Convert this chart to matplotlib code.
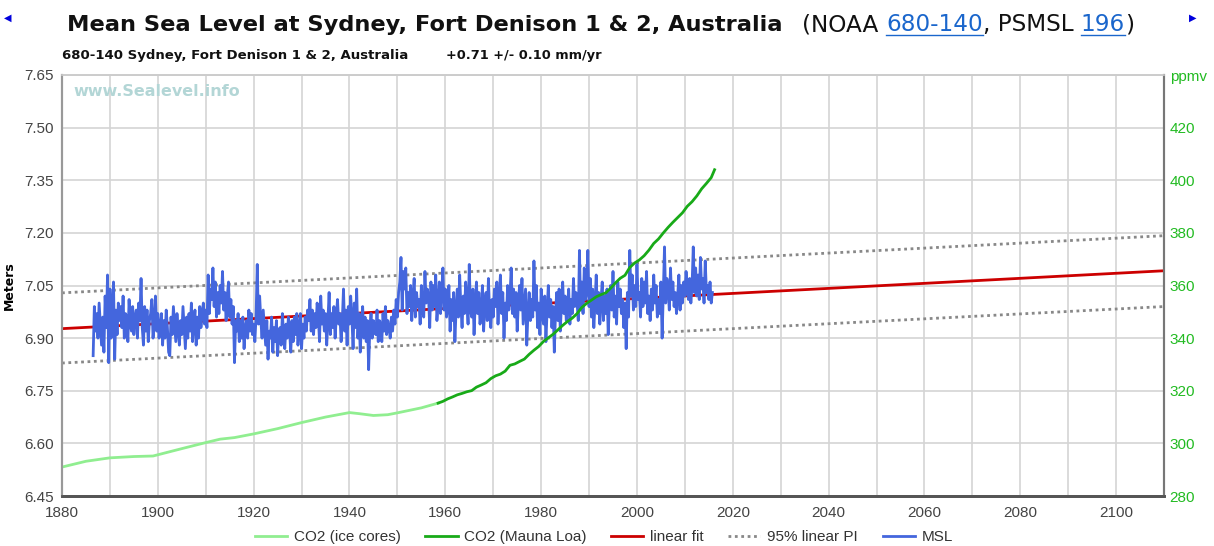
import numpy as np
import matplotlib
matplotlib.use("Agg")
import matplotlib.pyplot as plt
from matplotlib.lines import Line2D

# ---------------- data ----------------
msl_start = 1886.5
msl_step = 0.25
msl_values = [
    6.85, 6.99, 6.92, 6.97,  6.90, 7.00, 6.94, 6.88,  6.96, 6.86, 7.02, 6.93,
    7.08, 6.83, 7.04, 6.90,  6.97, 7.06, 6.84, 6.98,  6.91, 7.00, 6.95, 6.99,
    6.93, 7.02, 6.90, 6.97,  6.96, 6.89, 7.01, 6.94,  6.92, 6.99, 6.91, 6.96,
    6.98, 6.90, 7.00, 6.95,  7.07, 6.93, 6.88, 6.99,  6.92, 6.98, 6.89, 6.95,
    6.97, 7.01, 6.90, 6.94,  7.02, 6.92, 6.97, 6.90,  6.93, 6.97, 6.88, 6.95,
    6.90, 6.98, 6.93, 6.86,  6.85, 6.96, 6.91, 6.99,  6.94, 6.89, 6.97, 6.92,
    6.88, 6.95, 6.91, 6.99,  6.93, 6.87, 6.96, 6.90,  6.97, 6.92, 7.00, 6.89,
    6.94, 6.98, 6.88, 6.96,  6.90, 6.99, 6.93, 6.97,  7.00, 6.94, 6.98, 6.93,
    7.08, 6.97, 7.04, 7.01,  7.10, 6.99, 7.06, 6.96,  7.03, 6.97, 7.05, 7.00,
    7.09, 6.98, 7.03, 6.95,  7.02, 7.06, 6.96, 7.01,  6.94, 6.99, 6.83, 6.95,
    6.92, 6.97, 6.89, 6.95,  6.90, 6.96, 6.87, 6.93,  6.95, 6.90, 6.98, 6.92,
    6.97, 6.91, 6.94, 6.89,  6.96, 7.11, 6.94, 7.02,  6.95, 6.90, 6.98, 6.93,
    6.88, 6.95, 6.84, 6.92,  6.90, 6.96, 6.86, 6.93,  6.89, 6.95, 6.85, 6.92,
    6.93, 6.88, 6.97, 6.91,  6.87, 6.94, 6.90, 6.96,  6.92, 6.86, 6.95, 6.89,
    6.96, 6.91, 6.97, 6.88,  6.93, 6.97, 6.87, 6.94,  6.90, 6.96, 6.92, 6.98,
    6.95, 7.01, 6.92, 6.98,  6.91, 6.97, 6.93, 7.00,  6.96, 6.89, 7.02, 6.94,
    6.98, 6.92, 6.97, 6.88,  6.95, 7.03, 6.91, 6.97,  6.93, 6.99, 6.90, 6.96,
    7.01, 6.94, 6.97, 6.89,  6.95, 7.04, 6.92, 6.98,  6.88, 6.99, 6.94, 7.02,
    6.96, 6.87, 7.00, 6.93,  7.04, 6.90, 6.97, 6.86,  6.94, 6.99, 6.90, 6.96,
    6.89, 6.95, 6.81, 6.93,  6.97, 6.90, 6.95, 6.92,  6.91, 6.98, 6.89, 6.95,
    6.94, 6.89, 6.97, 6.92,  6.99, 6.91, 6.95, 6.93,  6.90, 6.96, 6.92, 6.98,
    6.94, 7.01, 6.96, 7.03,  7.06, 7.13, 6.98, 7.09,  7.04, 7.10, 6.97, 7.03,
    6.99, 7.05, 6.95, 7.02,  7.07, 6.96, 7.03, 6.99,  7.01, 6.94, 7.05, 6.98,
    6.96, 7.09, 7.00, 7.04,  7.02, 6.93, 7.06, 6.98,  7.05, 6.99, 7.08, 6.95,
    7.00, 7.06, 6.97, 7.03,  7.10, 6.98, 7.04, 6.96,  6.99, 7.05, 6.92, 7.01,
    6.95, 7.03, 6.89, 6.98,  7.04, 6.96, 7.08, 6.99,  6.93, 7.02, 6.97, 7.06,
    7.01, 6.94, 7.11, 6.98,  6.96, 7.04, 6.91, 7.00,  7.06, 6.97, 7.03, 6.94,
    6.98, 7.05, 6.92, 7.00,  7.03, 6.95, 7.07, 6.97,  6.93, 7.01, 6.96, 7.04,
    6.99, 7.06, 6.94, 7.02,  7.08, 6.97, 7.03, 6.90,  7.00, 6.95, 7.05, 6.98,
    7.02, 7.10, 6.97, 7.04,  6.96, 7.03, 6.92, 7.00,  7.05, 6.98, 7.07, 6.94,
    6.99, 7.04, 6.88, 6.97,  7.03, 6.95, 7.01, 6.96,  7.12, 6.98, 7.05, 6.93,
    7.00, 6.91, 7.04, 6.97,  6.94, 7.02, 6.89, 6.98,  7.05, 6.96, 7.01, 6.93,
    6.99, 6.86, 6.97, 7.03,  6.95, 7.04, 6.92, 7.00,  7.06, 6.97, 7.02, 6.95,
    6.99, 7.04, 6.94, 7.01,  6.97, 7.07, 6.99, 7.03,  7.00, 6.95, 7.15, 6.98,
    7.06, 6.97, 7.10, 7.01,  7.03, 7.15, 6.99, 7.07,  6.96, 7.04, 6.93, 7.00,
    7.08, 6.97, 7.03, 6.94,  7.01, 7.06, 6.95, 7.02,  6.97, 7.04, 6.91, 7.00,
    7.05, 6.98, 7.09, 6.96,  7.02, 6.94, 7.06, 6.99,  7.04, 6.97, 7.01, 6.93,
    7.00, 6.87, 7.03, 6.96,  7.15, 7.02, 7.08, 6.98,  7.05, 6.99, 7.11, 7.01,
    7.03, 6.96, 7.07, 6.99,  7.06, 7.00, 7.09, 6.97,  7.02, 6.95, 7.04, 6.98,
    7.08, 7.00, 7.05, 6.96,  7.01, 6.97, 7.06, 6.90,  7.03, 7.16, 7.00, 7.07,
    7.04, 6.98, 7.10, 7.01,  7.06, 6.99, 7.03, 6.97,  7.02, 7.08, 6.98, 7.05,
    7.00, 7.06, 7.02, 7.09,  7.04, 7.01, 7.07, 7.00,  7.05, 7.16, 7.03, 7.10,
    7.02, 7.08, 7.01, 7.13,  7.04, 7.07, 7.00, 7.12,  7.03, 7.05, 7.01, 7.06,
    7.00, 7.03,
]

fit_years = [1880, 2110]
fit_values = [6.927, 7.092]
pi_upper = [7.029, 7.192]
pi_lower = [6.829, 6.990]

ice_years = [1880, 1885, 1890, 1895, 1899, 1905, 1910, 1913, 1916, 1920, 1925,
             1930, 1935, 1940, 1942, 1945, 1948, 1950, 1955, 1958.5]
ice_ppmv = [291.0, 293.2, 294.5, 295.0, 295.2, 298.0, 300.3, 301.6, 302.2, 303.6,
            305.6, 307.9, 310.0, 311.7, 311.3, 310.6, 310.9, 311.6, 313.5, 315.3]

ml_years = [1958.5, 1959.5, 1960.5, 1961.5, 1962.5, 1963.5, 1964.5, 1965.5, 1966.5,
            1967.5, 1968.5, 1969.5, 1970.5, 1971.5, 1972.5, 1973.5, 1974.5, 1975.5,
            1976.5, 1977.5, 1978.5, 1979.5, 1980.5, 1981.5, 1982.5, 1983.5, 1984.5,
            1985.5, 1986.5, 1987.5, 1988.5, 1989.5, 1990.5, 1991.5, 1992.5, 1993.5,
            1994.5, 1995.5, 1996.5, 1997.5, 1998.5, 1999.5, 2000.5, 2001.5, 2002.5,
            2003.5, 2004.5, 2005.5, 2006.5, 2007.5, 2008.5, 2009.5, 2010.5, 2011.5,
            2012.5, 2013.5, 2014.5, 2015.5, 2016.2]
ml_ppmv = [315.3, 315.97, 316.91, 317.64, 318.45, 318.99, 319.62, 320.04, 321.37,
           322.18, 323.05, 324.62, 325.68, 326.32, 327.46, 329.68, 330.19, 331.13,
           332.03, 333.84, 335.41, 336.84, 338.76, 340.12, 341.48, 343.15, 344.85,
           346.35, 347.61, 349.31, 351.69, 353.20, 354.45, 355.70, 356.54, 357.21,
           358.96, 360.97, 362.74, 363.88, 366.84, 368.54, 369.71, 371.32, 373.45,
           375.98, 377.70, 379.98, 382.09, 384.02, 385.83, 387.64, 390.10, 391.85,
           394.06, 396.74, 398.81, 401.01, 404.0]

left_ticks = [6.45, 6.60, 6.75, 6.90, 7.05, 7.20, 7.35, 7.50, 7.65]
right_ticks = [280, 300, 320, 340, 360, 380, 400, 420, 440]
right_labels = ["280", "300", "320", "340", "360", "380", "400", "420", "ppmv"]
x_major = list(range(1880, 2111, 20))
x_minor = list(range(1890, 2111, 20))

# ---------------- figure ----------------
W, H = 1214, 546
fig = plt.figure(figsize=(W / 100, H / 100), dpi=100)
ax = fig.add_axes([62 / W, 1 - 496 / H, (1164 - 62) / W, (496 - 75) / H])
ax2 = ax.twinx()

sans = ["Liberation Sans", "DejaVu Sans"]
tick_color = "#444444"
green_lab = "#22bb22"

msl_years = msl_start + msl_step * np.arange(len(msl_values))

l_fit, = ax.plot(fit_years, fit_values, color="#cc0000", lw=2.0, zorder=2)
l_pi, = ax.plot(fit_years, pi_upper, color="#888888", lw=2.0,
                linestyle=(0, (1, 1.3)), zorder=2)
ax.plot(fit_years, pi_lower, color="#888888", lw=2.0, linestyle=(0, (1, 1.3)), zorder=2)
l_msl, = ax.plot(msl_years, msl_values, color="#4466dd", lw=2.0, zorder=3)

l_ice, = ax2.plot(ice_years, ice_ppmv, color="#90ee90", lw=2.0)
l_ml, = ax2.plot(ml_years, ml_ppmv, color="#18aa18", lw=2.0)

ax.set_xlim(1880, 2110)
ax.set_ylim(6.45, 7.65)
ax2.set_ylim(280, 440)

ax.set_xticks(x_major)
ax.set_xticks(x_minor, minor=True)
ax.set_yticks(left_ticks)
ax.set_yticklabels([f"{v:.2f}" for v in left_ticks])
ax2.set_yticks(right_ticks)
ax2.set_yticklabels(right_labels)

ax.grid(True, which="both", color="#d4d4d4", lw=1.2, zorder=0)
ax.set_axisbelow(True)

ax.tick_params(axis="both", which="both", length=0, labelsize=11,
               labelcolor=tick_color)
ax.tick_params(axis="x", pad=7)
ax.tick_params(axis="y", pad=6)
ax2.tick_params(axis="y", length=0, labelsize=11, labelcolor=green_lab, pad=4)
for lab in ax.get_xticklabels() + ax.get_yticklabels() + ax2.get_yticklabels():
    lab.set_family(sans)

for a in (ax, ax2):
    a.spines["top"].set_color("#cccccc")
    a.spines["top"].set_linewidth(1.2)
    a.spines["bottom"].set_color("#555555")
    a.spines["bottom"].set_linewidth(2.0)
    a.spines["left"].set_color("#999999")
    a.spines["left"].set_linewidth(1.5)
    a.spines["right"].set_color("#777777")
    a.spines["right"].set_linewidth(1.5)

ax.set_ylabel("Meters", fontsize=9, fontweight="bold", family=["DejaVu Sans"],
              labelpad=6)

ax.text(0.01, 0.96, "www.Sealevel.info", transform=ax.transAxes, color="#b3d6d6",
        fontsize=11.5, fontweight="bold", family=["DejaVu Sans"], va="center",
        ha="left", zorder=1)

# legend
handles = [l_ice, l_ml, l_fit, l_pi, l_msl]
labels = ["CO2 (ice cores)", "CO2 (Mauna Loa)", "linear fit", "95% linear PI", "MSL"]
leg = fig.legend(handles, labels, loc="center", bbox_to_anchor=(604 / W, 1 - 537 / H),
                 ncol=5, frameon=False, handlelength=2.1, columnspacing=1.6,
                 handletextpad=0.45, prop={"family": sans, "size": 11})
for t in leg.get_texts():
    t.set_color("#333333")

# ---------------- title ----------------
fig.canvas.draw()
r = fig.canvas.get_renderer()
base_y = 1 - 31 / H
t1 = fig.text(67 / W, base_y, "Mean Sea Level at Sydney, Fort Denison 1 & 2, Australia",
              fontsize=16.2, fontweight="bold", family=["DejaVu Sans"], va="baseline",
              color="#111111")
bb = t1.get_window_extent(r)
x = bb.x1 + 20
pieces = [("(NOAA ", False), ("680-140", True), (", PSMSL ", False), ("196", True), (")", False)]
for txt, link in pieces:
    t = fig.text(x / W, base_y, txt, fontsize=16.7, family=["DejaVu Sans"], va="baseline",
                 color="#1a66cc" if link else "#111111")
    b = t.get_window_extent(r)
    if link:
        fig.add_artist(Line2D([b.x0 / W, b.x1 / W], [base_y - 4 / H, base_y - 4 / H],
                              color="#1a66cc", lw=1.0, transform=fig.transFigure))
    x = b.x1

fig.text(8 / W, 1 - 18 / H, "\u25c0", fontsize=7, color="#0000dd", ha="center",
         va="center", family=["DejaVu Sans"])
fig.text(1193 / W, 1 - 18 / H, "\u25b6", fontsize=7, color="#0000dd", ha="center",
         va="center", family=["DejaVu Sans"])

fig.text(62 / W, 1 - 55 / H, "680-140 Sydney, Fort Denison 1 & 2, Australia",
         fontsize=9.5, fontweight="bold", family=["DejaVu Sans"], va="center", color="#111111")
fig.text(446 / W, 1 - 55 / H, "+0.71 +/- 0.10 mm/yr",
         fontsize=9.3, fontweight="bold", family=["DejaVu Sans"], va="center", color="#111111")

fig.savefig("out.png", dpi=100)
